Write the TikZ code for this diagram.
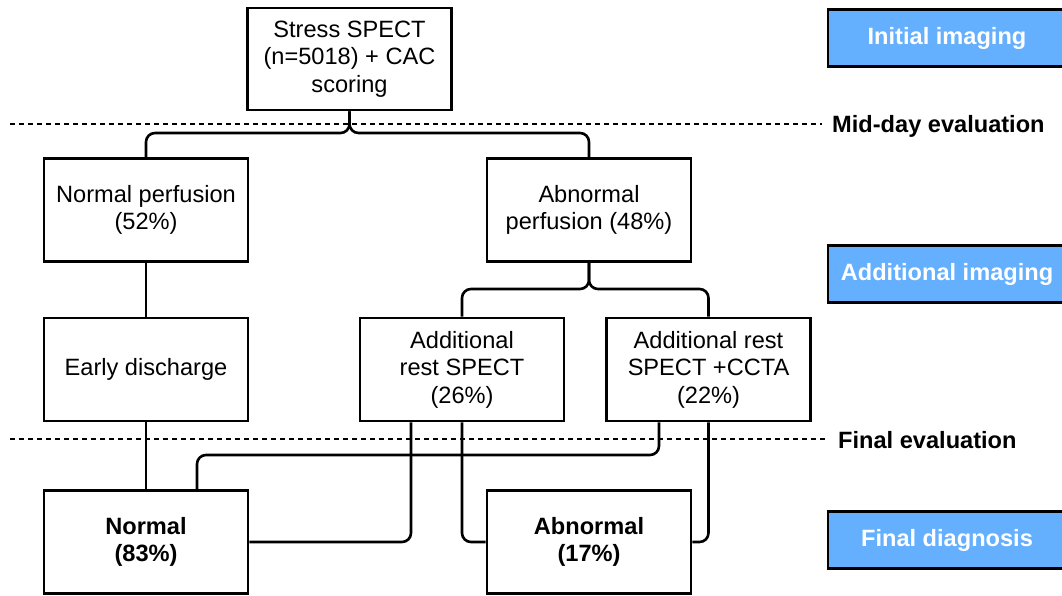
\documentclass[tikz,border=0pt]{standalone}
\usepackage{fontspec}
\setmainfont{Liberation Sans}
\definecolor{blu}{RGB}{100,176,255}
\begin{document}
\begin{tikzpicture}[x=1pt,y=-1pt,
  box/.style={draw,line width=2.6pt,minimum width=204pt,minimum height=103pt,align=center,inner sep=2pt,font=\fontsize{23.6}{27.5}\selectfont},
  conn/.style={line width=2.6pt,rounded corners=9pt},
  sepline/.style={line width=1.2pt,dash pattern=on 5pt off 4pt},
  tag/.style={draw,fill=blu,line width=2.6pt,minimum width=238pt,minimum height=57pt,text=white,font=\fontsize{23.6}{28}\selectfont\bfseries},
  lbl/.style={anchor=west,inner sep=0pt,font=\fontsize{23.6}{28}\selectfont\bfseries}]
\useasboundingbox (0,0) rectangle (1062,596);

% separators
\draw[sepline] (10,124) -- (822,124);
\draw[sepline] (10,439) -- (826,439);
\node[lbl] (mid) at (832,126) {Mid-day evaluation};
\node[lbl] (fin) at (838,440) {Final evaluation};

% side tags
\node[tag] (t1) at (947,38) {Initial imaging};
\node[tag] (t2) at (947,274) {Additional imaging};
\node[tag] (t3) at (947,540) {Final diagnosis};

% boxes
\node[box,minimum height=102pt] (top) at (349.5,59) {Stress SPECT\\(n=5018) + CAC\\scoring};
\node[box] (np) at (146,210) {Normal perfusion\\(52\%)};
\node[box] (ap) at (589,210) {Abnormal\\perfusion (48\%)};
\node[box] (ed) at (146,369.5) {Early discharge};
\node[box] (ars) at (462,369.5) {Additional\\rest SPECT\\(26\%)};
\node[box] (cc) at (708.5,369.5) {Additional rest\\SPECT +CCTA\\(22\%)};
\node[box,font=\fontsize{23.6}{27.5}\selectfont\bfseries] (nf) at (146,542) {Normal\\(83\%)};
\node[box,font=\fontsize{23.6}{27.5}\selectfont\bfseries] (af) at (589,542) {Abnormal\\(17\%)};

% connectors
\coordinate (b1) at (349.5,133);
\draw[conn] (top.south) -- (b1) -| (np.north);
\draw[conn] (top.south) -- (b1) -| (ap.north);
\coordinate (b2) at (589,289);
\draw[conn] (ap.south) -- (b2) -| (ars.north);
\draw[conn] (ap.south) -- (b2) -| (cc.north);
\draw[conn] (np.south) -- (ed.north);
\draw[conn] (ed.south) -- (nf.north);
\coordinate (k1) at (659,455);
\coordinate (k2) at (197,455);
\draw[conn] (k1 |- cc.south) -- (k1) -- (k2) -- (k2 |- nf.north);
\coordinate (k3) at (411,0);
\draw[conn] (k3 |- ars.south) |- (nf.east);
\draw[conn] (ars.south) |- (af.west);
\draw[conn] (cc.south) |- (af.east);
\end{tikzpicture}
\end{document}
